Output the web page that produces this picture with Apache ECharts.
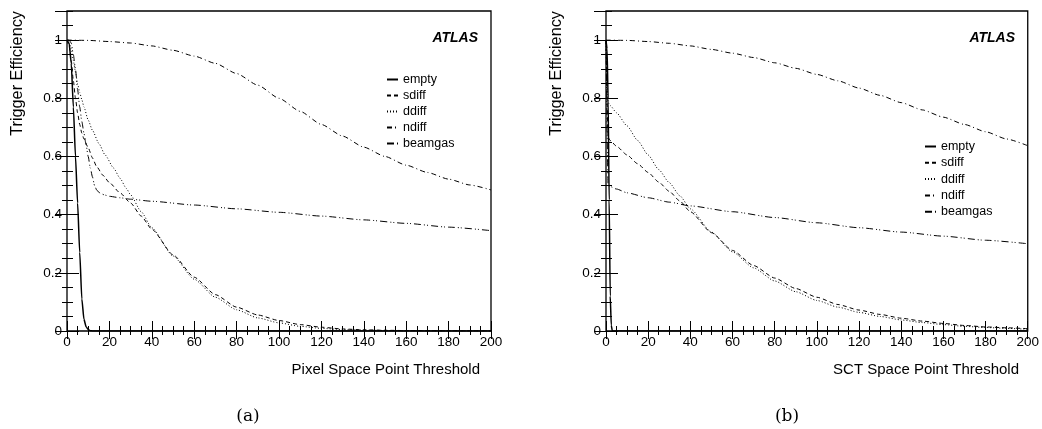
<!DOCTYPE html>
<html>
<head>
<meta charset="utf-8">
<script src="https://cdn.jsdelivr.net/npm/echarts@6/dist/echarts.min.js"></script>
<style>
html,body{margin:0;padding:0;background:#fff;}
#chart{width:1042px;height:429px;}
</style>
</head>
<body>
<div id="chart"></div>
<script>
// ---------- DATA ----------
const seriesNames = ['empty', 'sdiff', 'ddiff', 'ndiff', 'beamgas'];
const xTickLabels = [0, 20, 40, 60, 80, 100, 120, 140, 160, 180, 200];
const yTickLabels = [0, 0.2, 0.4, 0.6, 0.8, 1];

// (a) Pixel space point threshold
const pxEmptyX = [0,1,2,3,4,5,6,7,8,9,10,11,12,200];
const pxEmptyY = [1,0.99,0.92,0.77,0.6,0.44,0.27,0.11,0.04,0.015,0.005,0.001,0,0];
const pxSdiffX = [0,1,2,3,4,5,6,7,8,10,12,14,17,20,25,30,35,40,50,60,70,80,90,100,110,120,130,140,150,160,180,200];
const pxSdiffY = [1,0.98,0.93,0.86,0.8,0.75,0.71,0.68,0.66,0.63,0.595,0.565,0.535,0.51,0.475,0.44,0.395,0.35,0.262,0.185,0.125,0.082,0.055,0.036,0.022,0.013,0.007,0.004,0.0025,0.0015,0.0007,0];
const pxDdiffX = [0,1,2,3,4,5,6,7,8,10,12,15,18,22,25,28,30,35,40,50,60,70,80,90,100,110,120,130,140,150,160,180,200];
const pxDdiffY = [1,0.99,0.97,0.93,0.89,0.85,0.82,0.795,0.77,0.725,0.69,0.645,0.605,0.56,0.525,0.49,0.468,0.41,0.355,0.258,0.178,0.116,0.073,0.045,0.028,0.016,0.009,0.005,0.003,0.0018,0.001,0.0004,0];
const pxNdiffX = [0,10,20,30,40,50,60,70,80,90,100,110,120,130,140,150,160,170,180,190,200];
const pxNdiffY = [1,0.999,0.995,0.99,0.98,0.965,0.945,0.92,0.885,0.845,0.8,0.755,0.71,0.67,0.632,0.6,0.57,0.545,0.522,0.502,0.485];
const pxBeamX = [0,1,2,3,4,5,6,7,8,9,10,11,12,13,14,15,16,18,20,25,30,40,60,80,100,120,140,160,180,200];
const pxBeamY = [1,1,0.99,0.95,0.9,0.83,0.77,0.72,0.68,0.64,0.6,0.56,0.53,0.5,0.485,0.477,0.472,0.467,0.463,0.458,0.453,0.446,0.433,0.42,0.408,0.395,0.382,0.37,0.357,0.345];

// (b) SCT space point threshold
const sctEmptyX = [0,0.5,1,1.5,2,2.5,3,200];
const sctEmptyY = [1,0.97,0.8,0.45,0.12,0.02,0,0];
const sctSdiffX = [0,1,2,5,10,15,20,25,30,35,40,50,60,70,80,90,100,110,120,130,140,150,160,170,180,190,200];
const sctSdiffY = [1,0.665,0.655,0.635,0.605,0.575,0.545,0.512,0.48,0.447,0.41,0.338,0.277,0.225,0.182,0.146,0.116,0.091,0.072,0.057,0.044,0.034,0.026,0.019,0.014,0.011,0.008];
const sctDdiffX = [0,1,2,5,10,15,20,25,30,35,40,50,60,70,80,90,100,110,120,130,140,150,160,170,180,190,200];
const sctDdiffY = [1,0.785,0.775,0.75,0.705,0.655,0.605,0.555,0.51,0.465,0.42,0.34,0.272,0.217,0.172,0.135,0.105,0.082,0.064,0.05,0.038,0.029,0.022,0.016,0.012,0.009,0.006];
const sctNdiffX = [0,10,20,30,40,50,60,70,80,90,100,110,120,130,140,150,160,170,180,190,200];
const sctNdiffY = [1,0.999,0.995,0.989,0.98,0.968,0.955,0.94,0.922,0.903,0.882,0.86,0.835,0.81,0.785,0.76,0.735,0.71,0.685,0.66,0.637];
const sctBeamX = [0,1,5,10,20,30,40,60,80,100,120,140,160,180,200];
const sctBeamY = [1,0.5,0.488,0.475,0.458,0.443,0.43,0.41,0.39,0.372,0.355,0.34,0.326,0.312,0.3];

// ---------- STYLE ----------
const FONT = 'Liberation Sans';
const dashes = {
  empty: 'solid',
  sdiff: [4, 3],
  ddiff: [1, 2],
  ndiff: [5, 3, 1, 3],
  beamgas: [7, 3, 1, 2, 1, 3]
};
const widths = {empty: 1.5, sdiff: 1, ddiff: 1, ndiff: 1, beamgas: 1};

const grids = [
  {left: 67, right: 1042 - 491, top: 11, bottom: 429 - 331, show: true, borderColor: '#000', borderWidth: 1.3, backgroundColor: 'transparent'},
  {left: 606, right: 1042 - 1028, top: 11, bottom: 429 - 331, show: true, borderColor: '#000', borderWidth: 1.3, backgroundColor: 'transparent'}
];

const xAxes = [];
const yAxes = [];
function addAxes(g) {
  const base = {gridIndex: g, splitLine: {show: false}, axisLine: {show: false}};
  const xb = xAxes.length;
  xAxes.push(Object.assign({}, base, {type: 'value', min: 0, max: 200, interval: 20, position: 'bottom',
    axisTick: {inside: true, length: 10, lineStyle: {color: '#000', width: 1}},
    axisLabel: {color: '#000', fontFamily: FONT, fontSize: 13.5, margin: 4,
      formatter: v => xTickLabels.indexOf(v) >= 0 ? String(v) : ''}}));
  xAxes.push(Object.assign({}, base, {type: 'value', min: 0, max: 200, interval: 5, position: 'bottom',
    axisTick: {inside: true, length: 5, lineStyle: {color: '#000', width: 1}}, axisLabel: {show: false}}));
  xAxes.push(Object.assign({}, base, {type: 'value', min: 0, max: 200, interval: 20, position: 'top',
    axisTick: {inside: true, length: 8, lineStyle: {color: '#000', width: 1}}, axisLabel: {show: false}}));
  xAxes.push(Object.assign({}, base, {type: 'value', min: 0, max: 200, interval: 5, position: 'top',
    axisTick: {inside: true, length: 4, lineStyle: {color: '#000', width: 1}}, axisLabel: {show: false}}));
  const yb = yAxes.length;
  yAxes.push(Object.assign({}, base, {type: 'value', min: 0, max: 1.1, interval: 0.2, position: 'left',
    axisTick: {inside: true, length: 12, lineStyle: {color: '#000', width: 1}},
    axisLabel: {color: '#000', fontFamily: FONT, fontSize: 13.5, margin: 5, showMaxLabel: false,
      formatter: v => yTickLabels.indexOf(Math.round(v * 10) / 10) >= 0 && Math.abs(v * 5 - Math.round(v * 5)) < 1e-6 ? String(Math.round(v * 10) / 10) : ''}}));
  yAxes.push(Object.assign({}, base, {type: 'value', min: 0, max: 1.1, interval: 0.05, position: 'left',
    axisTick: {inside: true, length: 6, lineStyle: {color: '#000', width: 1}}, axisLabel: {show: false}}));
  yAxes.push(Object.assign({}, base, {type: 'value', min: 0, max: 1.1, interval: 0.2, position: 'right',
    axisTick: {inside: true, length: 12, lineStyle: {color: '#000', width: 1}}, axisLabel: {show: false}}));
  yAxes.push(Object.assign({}, base, {type: 'value', min: 0, max: 1.1, interval: 0.05, position: 'right',
    axisTick: {inside: true, length: 5, lineStyle: {color: '#000', width: 1}}, axisLabel: {show: false}}));
  return {xb, yb};
}
const ax0 = addAxes(0);
const ax1 = addAxes(1);

function pairs(xs, ys) { return xs.map((x, i) => [x, ys[i]]); }
function mk(name, xs, ys, ax) {
  return {
    type: 'line', name: name, xAxisIndex: ax.xb, yAxisIndex: ax.yb,
    data: pairs(xs, ys), symbol: 'none', smooth: 0.2, smoothMonotone: 'x',
    lineStyle: {color: '#000', width: widths[name], type: dashes[name]},
    itemStyle: {color: '#000'}, animation: false, clip: true
  };
}
const series = [
  mk('empty', pxEmptyX, pxEmptyY, ax0),
  mk('sdiff', pxSdiffX, pxSdiffY, ax0),
  mk('ddiff', pxDdiffX, pxDdiffY, ax0),
  mk('ndiff', pxNdiffX, pxNdiffY, ax0),
  mk('beamgas', pxBeamX, pxBeamY, ax0),
  mk('empty', sctEmptyX, sctEmptyY, ax1),
  mk('sdiff', sctSdiffX, sctSdiffY, ax1),
  mk('ddiff', sctDdiffX, sctDdiffY, ax1),
  mk('ndiff', sctNdiffX, sctNdiffY, ax1),
  mk('beamgas', sctBeamX, sctBeamY, ax1)
];

const legendBase = {
  orient: 'vertical', data: seriesNames, itemWidth: 11, itemHeight: 12, itemGap: 3,
  selectedMode: false, padding: 0,
  itemStyle: {opacity: 0, borderWidth: 0},
  textStyle: {color: '#000', fontFamily: FONT, fontSize: 12.5}
};
const legends = [
  Object.assign({}, legendBase, {left: 386, top: 73}),
  Object.assign({}, legendBase, {left: 924, top: 140, itemGap: 3.3})
];

function txt(x, y, s, opts) {
  return {type: 'text', x: x, y: y, rotation: opts.rotation || 0, silent: true,
    style: Object.assign({text: s, fill: '#000', fontFamily: FONT, fontSize: 15,
      textAlign: opts.align || 'left', align: opts.align || 'left',
      textVerticalAlign: 'middle', verticalAlign: 'middle'}, opts.style || {})};
}
const graphics = [
  txt(17.5, 11, 'Trigger Efficiency', {rotation: Math.PI / 2, align: 'right', style: {fontSize: 16.3}}),
  txt(556.5, 11, 'Trigger Efficiency', {rotation: Math.PI / 2, align: 'right', style: {fontSize: 16.3}}),
  txt(480, 370, 'Pixel Space Point Threshold', {align: 'right'}),
  txt(1019, 370, 'SCT Space Point Threshold', {align: 'right'}),
  txt(478, 38, 'ATLAS', {align: 'right', style: {fontStyle: 'italic', fontWeight: 'bold', fontSize: 14}}),
  txt(1015, 38, 'ATLAS', {align: 'right', style: {fontStyle: 'italic', fontWeight: 'bold', fontSize: 14}}),
  txt(248, 417, '(a)', {align: 'center', style: {fontFamily: 'DejaVu Serif', fontSize: 17}}),
  txt(787, 417, '(b)', {align: 'center', style: {fontFamily: 'DejaVu Serif', fontSize: 17}})
];

const chart = echarts.init(document.getElementById('chart'), null, {renderer: 'canvas'});
chart.setOption({
  backgroundColor: '#fff',
  animation: false,
  grid: grids,
  xAxis: xAxes,
  yAxis: yAxes,
  legend: legends,
  series: series,
  graphic: graphics
});
</script>
</body>
</html>
